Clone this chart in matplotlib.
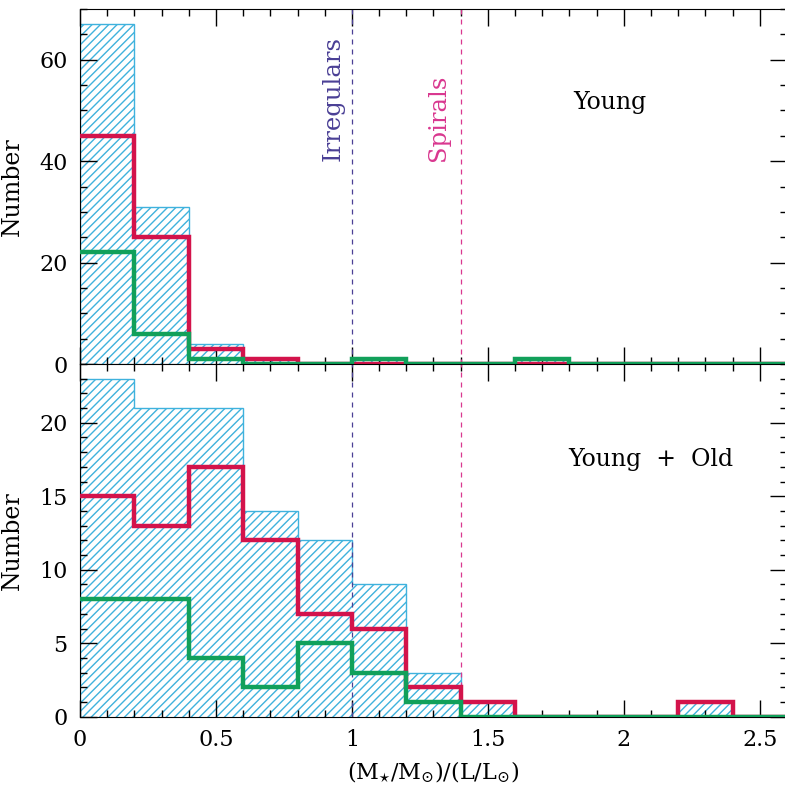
import numpy as np
import matplotlib.pyplot as plt
from matplotlib.ticker import MultipleLocator

plt.rcParams['font.family'] = 'DejaVu Serif'
plt.rcParams['mathtext.fontset'] = 'dejavuserif'
plt.rcParams['hatch.linewidth'] = 1.0

# bin edges of M*/L (0 .. 2.6, width 0.2)
edges = np.arange(0, 2.61, 0.2)

# top panel: young population only
young_all = [67, 31, 4, 1, 0, 1, 0, 0, 1, 0, 0, 0, 0]
young_red = [45, 25, 3, 1, 0, 0, 0, 0, 0, 0, 0, 0, 0]
young_green = [22, 6, 1, 0, 0, 1, 0, 0, 1, 0, 0, 0, 0]

# bottom panel: young + old
yo_all = [23, 21, 21, 14, 12, 9, 3, 1, 0, 0, 0, 1, 0]
yo_red = [15, 13, 17, 12, 7, 6, 2, 1, 0, 0, 0, 1, 0]
yo_green = [8, 8, 4, 2, 5, 3, 1, 0, 0, 0, 0, 0, 0]

cyan = '#3fb2dd'
red = '#d3134b'
green = '#11a05a'
irr_col = '#4a3f95'
spi_col = '#d9378f'

fig = plt.figure(figsize=(7.85, 7.85), dpi=100)
ax1 = fig.add_axes([0.1019, 0.5363, 0.9006, 0.4522])
ax2 = fig.add_axes([0.1019, 0.0870, 0.9006, 0.4493])


def panel(ax, tot, r, g, ymax, ymaj, ymin):
    ax.stairs(tot, edges, fill=True, facecolor='none', edgecolor=cyan,
              hatch='////', linewidth=1.0, zorder=1)
    ax.stairs(r, edges, baseline=None, color=red, linewidth=3.2, zorder=3)
    ax.stairs(g, edges, baseline=None, color=green, linewidth=3.2, zorder=4)
    ax.axvline(1.0, color=irr_col, linestyle=(0, (4, 4)), linewidth=0.9, zorder=2)
    ax.axvline(1.4, color=spi_col, linestyle=(0, (4, 4)), linewidth=0.9, zorder=2)
    ax.set_xlim(0, 2.6)
    ax.set_ylim(0, ymax)
    ax.xaxis.set_major_locator(MultipleLocator(0.5))
    ax.xaxis.set_minor_locator(MultipleLocator(0.1))
    ax.yaxis.set_major_locator(MultipleLocator(ymaj))
    ax.yaxis.set_minor_locator(MultipleLocator(ymin))
    ax.tick_params(which='both', direction='in', top=True, right=True,
                   labelsize=16, pad=9, width=1)
    ax.tick_params(which='major', length=12)
    ax.tick_params(which='minor', length=5)
    ax.set_ylabel('Number', fontsize=17, labelpad=8)
    ax.xaxis.set_major_formatter(plt.FuncFormatter(lambda v, p: '%g' % v))


panel(ax1, young_all, young_red, young_green, 70, 20, 5)
panel(ax2, yo_all, yo_red, yo_green, 24, 5, 1)
ax1.tick_params(labelbottom=False)

ax1.text(0.93, 40, 'Irregulars', rotation=90, ha='center', va='bottom',
         color=irr_col, fontsize=17.5)
ax1.text(1.32, 40, 'Spirals', rotation=90, ha='center', va='bottom',
         color=spi_col, fontsize=17.5)
ax1.text(1.95, 51.5, 'Young', ha='center', va='center', fontsize=17)
ax2.text(2.1, 17.5, 'Young  +  Old', ha='center', va='center', fontsize=17)

ax2.set_xlabel(r'(M$_{\star}$/M$_{\odot}$)/(L/L$_{\odot}$)', fontsize=16, labelpad=6)
ax1.yaxis.set_label_coords(-0.08, 0.5)
ax2.yaxis.set_label_coords(-0.08, 0.5)

fig.savefig('out.png', dpi=100)
